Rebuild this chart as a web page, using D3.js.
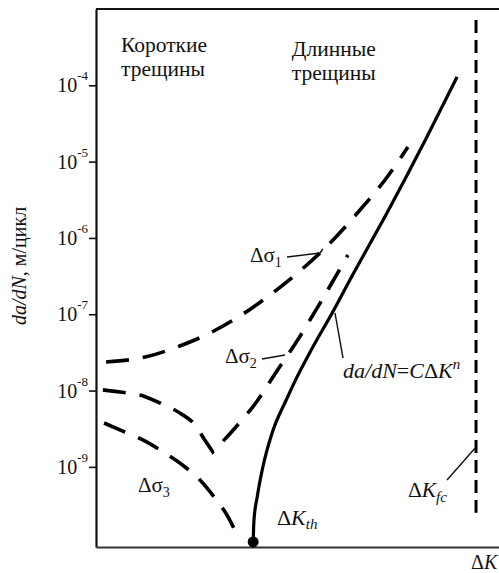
<!DOCTYPE html>
<html>
<head>
<meta charset="utf-8">
<script src="https://cdn.jsdelivr.net/npm/d3@7"></script>
<style>
  body { margin: 0; background: #fff; }
</style>
</head>
<body>
<div id="chart"></div>
<script>
// da/dN (m/cycle) vs ΔK, x in arbitrary ΔK units
const yTicks = [1e-4, 1e-5, 1e-6, 1e-7, 1e-8, 1e-9];
const yTickExp = ["-4", "-5", "-6", "-7", "-8", "-9"];

const paris = [[3.90, 1.04e-10], [3.92, 2.01e-10], [4.00, 4.03e-10], [4.14, 9.95e-10],
               [4.37, 2.78e-9], [4.72, 7.52e-9], [4.95, 1.37e-8], [5.34, 3.40e-8],
               [5.86, 1.04e-7], [6.30, 2.81e-7], [7.30, 2.54e-6], [8.21, 2.10e-5],
               [8.96, 1.29e-4]];

const sigma1 = [[0.25, 2.37e-8], [1.22, 2.75e-8], [2.08, 3.84e-8], [2.83, 5.68e-8],
                [3.57, 9.48e-8], [4.32, 1.79e-7], [5.06, 3.69e-7], [5.81, 8.59e-7],
                [6.55, 2.32e-6], [7.17, 5.74e-6], [7.74, 1.56e-5]];

const sigma2Left = [[0.17, 1.02e-8], [0.60, 9.57e-9], [1.09, 8.75e-9], [1.59, 6.87e-9],
                    [2.08, 5.08e-9], [2.46, 3.54e-9], [2.70, 2.25e-9], [2.90, 1.57e-9]];
const sigma2Right = [[2.90, 1.57e-9], [3.45, 3.23e-9], [4.00, 7.29e-9], [4.44, 1.65e-8],
                     [4.94, 4.07e-8], [5.56, 1.40e-7], [6.25, 5.97e-7]];

const sigma3 = [[0.20, 3.76e-9], [0.72, 2.86e-9], [1.22, 2.18e-9], [1.71, 1.52e-9],
                [2.21, 9.96e-10], [2.58, 6.73e-10], [2.95, 3.91e-10], [3.28, 2.20e-10],
                [3.50, 1.28e-10]];

const kth = [3.90, 1.04e-10];
const kfc = [[9.43, 7.2e-4], [9.43, 2.5e-10]];

// leader lines (data coords)
const leaders = [
  [[4.74, 5.62e-7], [5.56, 6.35e-7], [5.63, 7.16e-7]],
  [[4.12, 2.59e-8], [4.69, 2.92e-8]],
  [[5.93, 1.04e-7], [6.13, 2.67e-8]],
  [[8.71, 6.73e-10], [9.43, 1.82e-9]]
];

const margin = {top: 9, right: 0, bottom: 26, left: 96};
const W = 499, H = 573;
const width = W - margin.left - margin.right,
      height = H - margin.top - margin.bottom;

const svg = d3.select("#chart").append("svg")
    .attr("width", W)
    .attr("height", H)
    .attr("font-family", "'Liberation Serif', 'Times New Roman', serif");
const g = svg.append("g")
    .attr("transform", `translate(${margin.left},${margin.top})`);

const x = d3.scaleLinear().domain([0, 10]).range([0, width]);
const y = d3.scaleLog().domain([Math.pow(10, -10.05), 1e-3]).range([height, 0]);

// frame
g.append("line")
    .attr("x1", 0).attr("x2", width)
    .attr("y1", 0).attr("y2", 0)
    .attr("stroke", "#111").attr("stroke-width", 2);

const yAxis = g.append("g")
    .call(d3.axisLeft(y).tickValues(yTicks).tickSize(7).tickSizeOuter(0).tickFormat(""));
yAxis.select(".domain").attr("stroke", "#111").attr("stroke-width", 2.2);
yAxis.selectAll(".tick line").attr("stroke", "#111").attr("stroke-width", 1.6);

const xAxis = g.append("g")
    .attr("transform", `translate(0,${height})`)
    .call(d3.axisBottom(x).tickValues([]).tickSizeOuter(0));
xAxis.select(".domain").attr("stroke", "#333").attr("stroke-width", 2.2);

// tick labels 10^n
yTicks.forEach((t, i) => {
  const tx = g.append("text")
      .attr("x", -8)
      .attr("y", y(t) + 7)
      .attr("text-anchor", "end")
      .attr("fill", "#111");
  tx.append("tspan").attr("font-size", 20).text("10");
  tx.append("tspan").attr("font-size", 13).attr("dy", -12).text(yTickExp[i]);
});

// y label
const yl = g.append("text")
    .attr("transform", `translate(-70,257) rotate(-90)`)
    .attr("text-anchor", "middle")
    .attr("font-size", 20)
    .attr("fill", "#111");
yl.append("tspan").attr("font-style", "italic").text("da/dN");
yl.append("tspan").text(", м/цикл");

// curves
const line = d3.line()
    .x(d => x(d[0]))
    .y(d => y(d[1]))
    .curve(d3.curveMonotoneX);

g.append("path")
    .attr("d", line(paris))
    .attr("fill", "none")
    .attr("stroke", "#000")
    .attr("stroke-width", 3.2);

const dashed = [line(sigma1), line(sigma2Left) + line(sigma2Right).replace(/^M/, "L"), line(sigma3)];
g.selectAll("path.dash")
    .data(dashed)
    .enter()
    .append("path")
    .attr("class", "dash")
    .attr("d", d => d)
    .attr("fill", "none")
    .attr("stroke", "#000")
    .attr("stroke-width", 3.6)
    .attr("stroke-dasharray", "23,14");

g.append("path")
    .attr("d", d3.line().x(d => x(d[0])).y(d => y(d[1]))(kfc))
    .attr("fill", "none")
    .attr("stroke", "#000")
    .attr("stroke-width", 3)
    .attr("stroke-dasharray", "13,7");

g.append("circle")
    .attr("cx", x(kth[0]))
    .attr("cy", y(kth[1]))
    .attr("r", 5.5)
    .attr("fill", "#000");

g.selectAll("path.leader")
    .data(leaders)
    .enter()
    .append("path")
    .attr("class", "leader")
    .attr("d", d3.line().x(d => x(d[0])).y(d => y(d[1])))
    .attr("fill", "none")
    .attr("stroke", "#111")
    .attr("stroke-width", 1.4);

// text labels
function label(px, py, parts, size) {
  const t = g.append("text")
      .attr("x", x(px))
      .attr("y", y(py))
      .attr("font-size", size || 21)
      .attr("fill", "#111");
  parts.forEach(p => {
    const s = t.append("tspan").text(p.t);
    if (p.i) s.attr("font-style", "italic");
    if (p.s) s.attr("font-size", p.s);
    if (p.dy) s.attr("dy", p.dy);
  });
  return t;
}

label(0.62, Math.pow(10, -3.563), [{t: "Короткие"}], 21.5);
label(0.62, Math.pow(10, -3.878), [{t: "трещины"}], 21.5);
label(4.86, Math.pow(10, -3.616), [{t: "Длинные"}], 21.5);
label(4.86, Math.pow(10, -3.930), [{t: "трещины"}], 21.5);

label(3.82, 4.84e-7, [{t: "Δσ"}, {t: "1", s: 14, dy: 5}]);
label(3.20, 2.30e-8, [{t: "Δσ"}, {t: "2", s: 14, dy: 5}]);
label(1.04, 4.68e-10, [{t: "Δσ"}, {t: "3", s: 14, dy: 5}]);
label(4.49, 1.73e-10, [{t: "Δ"}, {t: "K", i: true}, {t: "th", i: true, s: 15, dy: 4}], 22);
label(7.74, 4.03e-10, [{t: "Δ"}, {t: "K", i: true}, {t: "fc", i: true, s: 15, dy: 5}], 21.5);
label(6.13, 1.46e-8, [{t: "da/dN", i: true}, {t: "=" }, {t: "C", i: true}, {t: "Δ"}, {t: "K", i: true}, {t: "n", i: true, s: 15, dy: -9}], 22);

svg.append("text")
    .attr("x", 471)
    .attr("y", 569)
    .attr("font-size", 20)
    .attr("fill", "#111")
    .call(t => {
      t.append("tspan").text("Δ");
      t.append("tspan").attr("font-style", "italic").text("K");
    });
</script>
</body>
</html>
